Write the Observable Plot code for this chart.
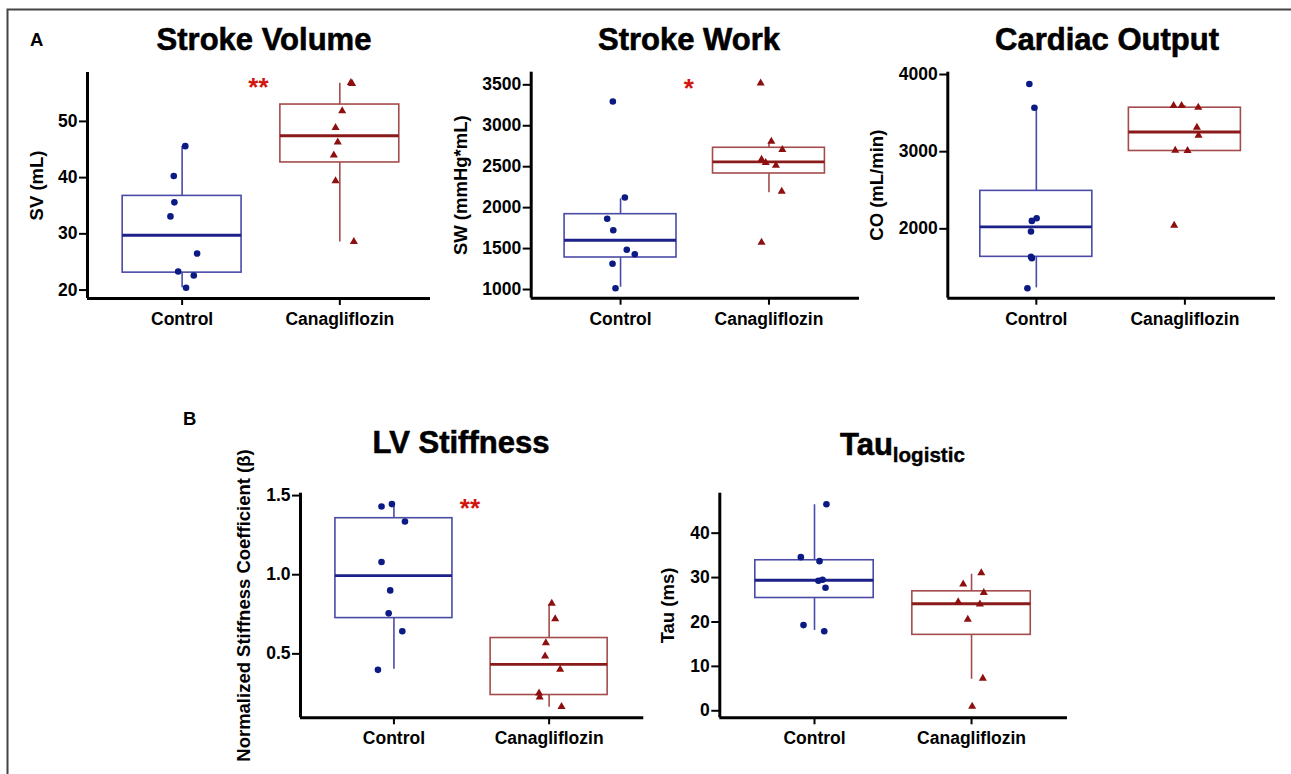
<!DOCTYPE html>
<html>
<head>
<meta charset="utf-8">
<script src="https://cdn.jsdelivr.net/npm/d3@7"></script>
<script src="https://cdn.jsdelivr.net/npm/@observablehq/plot@0.6"></script>
<style>
  html, body { margin: 0; padding: 0; background: #fff; }
  #fig { position: relative; width: 1291px; height: 774px; overflow: hidden; background: #fff;
         font-family: "Liberation Sans", Arial, Helvetica, sans-serif; }
  .panel { position: absolute; }
  #overlay { position: absolute; left: 0; top: 0; pointer-events: none; }
</style>
</head>
<body>
<div id="fig"></div>
<script>
// ---------------- data ----------------
const groups = ["Control", "Canagliflozin"];

// Stroke Volume (mL)
const svControl = [45.6, 40.3, 35.6, 33.1, 26.5, 23.3, 22.6, 20.4];
const svControlJitter = [0.02, -0.053, -0.049, -0.074, 0.095, -0.025, 0.074, 0.025];
const svCanag = [56.9, 56.7, 51.85, 48.9, 46.3, 44.0, 39.4, 28.6];
const svCanagJitter = [0.07, 0.078, 0.015, -0.027, -0.013, -0.038, -0.027, 0.089];
const svQ1 = [23.1, 42.7];
const svMedian = [29.75, 47.45];
const svQ3 = [36.75, 53.0];
const svLo = [20.4, 28.55];
const svHi = [45.6, 56.8];
const svTicks = [20, 30, 40, 50];
const svStars = [{x: 1.484, y: 57.0, label: "**"}];

// Stroke Work (mmHg*mL)
const swControl = [3297, 2124, 1864, 1724, 1485, 1431, 1314, 1016];
const swControlJitter = [-0.052, 0.029, -0.09, -0.049, 0.042, 0.096, -0.054, -0.034];
const swCanag = [3520, 2808, 2707, 2588, 2548, 2515, 2197, 1574];
const swCanagJitter = [-0.056, 0.016, 0.09, -0.05, -0.022, 0.047, 0.086, -0.05];
const swQ1 = [1391, 2417];
const swMedian = [1602, 2560];
const swQ3 = [1920, 2731];
const swLo = [1028, 2181];
const swHi = [2108, 2792];
const swTicks = [1000, 1500, 2000, 2500, 3000, 3500];
const swStars = [{x: 1.46, y: 3532, label: "*"}];

// Cardiac Output (mL/min)
const coControl = [3877, 3570, 2137, 2103, 1965, 1637, 1620, 1230];
const coControlJitter = [-0.047, -0.013, 0.002, -0.03, -0.036, -0.036, -0.03, -0.06];
const coCanag = [3596, 3596, 3574, 3315, 3211, 3017, 3013, 2043];
const coCanagJitter = [-0.076, -0.022, 0.09, 0.081, 0.092, -0.065, 0.018, -0.072];
const coQ1 = [1637, 3009];
const coMedian = [2026, 3255];
const coQ3 = [2492, 3570];
const coLo = [1235, 3009];
const coHi = [3583, 3596];
const coTicks = [2000, 3000, 4000];
const coStars = [];

// LV Stiffness (normalized beta)
const lvControl = [1.431, 1.446, 1.336, 1.08, 0.901, 0.756, 0.643, 0.399];
const lvControlJitter = [-0.08, -0.013, 0.071, -0.08, -0.024, -0.034, 0.054, -0.103];
const lvCanag = [0.819, 0.721, 0.569, 0.485, 0.401, 0.252, 0.227, 0.167];
const lvCanagJitter = [0.017, 0.039, -0.021, -0.026, 0.071, -0.065, -0.061, 0.08];
const lvQ1 = [0.726, 0.24];
const lvMedian = [0.994, 0.433];
const lvQ3 = [1.357, 0.600];
const lvLo = [0.403, 0.162];
const lvHi = [1.446, 0.814];
const lvTicks = [0.5, 1.0, 1.5];
const lvStars = [{x: 1.49, y: 1.458, label: "**"}];

// Tau logistic (ms)
const tauControl = [46.5, 34.6, 33.7, 29.3, 29.5, 27.7, 19.3, 17.9];
const tauControlJitter = [0.076, -0.087, 0.032, 0.025, 0.051, 0.07, -0.07, 0.062];
const tauCanag = [31.05, 28.5, 26.6, 24.5, 24.0, 20.6, 7.3, 0.97];
const tauCanagJitter = [0.062, -0.053, 0.078, -0.085, 0.053, -0.024, 0.072, 0.004];
const tauQ1 = [25.4, 17.1];
const tauMedian = [29.4, 24.1];
const tauQ3 = [33.9, 26.9];
const tauLo = [18.1, 7.1];
const tauHi = [46.4, 30.75];
const tauTicks = [0, 10, 20, 30, 40];
const tauStars = [];

// ---------------- styling ----------------
const FONT = '"Liberation Sans", Arial, Helvetica, sans-serif';
const COLORS = [
  {pt: "#0c1a84", box: "#4a4aa8", med: "#1b2188"},
  {pt: "#8e0f10", box: "#a44c4c", med: "#8b1a1a"}
];
const STAR = "#d3150f";
const HALF = 0.377;

function panel(cfg) {
  const pts = [
    ...cfg.ctrl.map((v, i) => ({g: 0, x: 1 + cfg.ctrlJ[i], y: v})),
    ...cfg.can.map((v, i) => ({g: 1, x: 2 + cfg.canJ[i], y: v}))
  ];
  const boxes = groups.map((name, i) => ({
    i, x: i + 1, q1: cfg.q1[i], med: cfg.med[i], q3: cfg.q3[i], lo: cfg.lo[i], hi: cfg.hi[i]
  }));
  const marks = [];
  boxes.forEach(b => {
    const c = COLORS[b.i];
    marks.push(Plot.ruleX([b], {x: "x", y1: "q3", y2: "hi", stroke: c.box, strokeWidth: 1.6}));
    marks.push(Plot.ruleX([b], {x: "x", y1: "lo", y2: "q1", stroke: c.box, strokeWidth: 1.6}));
    marks.push(Plot.rect([b], {x1: d => d.x - HALF, x2: d => d.x + HALF, y1: "q1", y2: "q3",
      fill: "none", stroke: c.box, strokeWidth: 1.6}));
    marks.push(Plot.ruleY([b], {y: "med", x1: d => d.x - HALF, x2: d => d.x + HALF,
      stroke: c.med, strokeWidth: 2.8}));
  });
  marks.push(Plot.dot(pts.filter(d => d.g === 0), {x: "x", y: "y", r: 3.3, fill: COLORS[0].pt, stroke: "none"}));
  marks.push(Plot.dot(pts.filter(d => d.g === 1), {x: "x", y: "y", r: 3.0, symbol: "triangle", fill: COLORS[1].pt, stroke: "none"}));
  marks.push(Plot.text(cfg.stars, {x: "x", y: "y", text: "label", fill: STAR, fontSize: 26, fontWeight: "bold", dy: 6}));
  // axes
  marks.push(Plot.axisY({ticks: cfg.yTicks, tickFormat: cfg.yFormat || (d => String(d)), tickSize: 8,
    tickPadding: 2, strokeWidth: 2, label: null, fontSize: 17.5, fontWeight: "bold"}));
  marks.push(Plot.axisY({ticks: [], tickSize: 0, label: cfg.label, labelAnchor: "center", labelArrow: "none",
    labelOffset: cfg.labelOffset, fontSize: 18.5, fontWeight: "bold"}));
  marks.push(Plot.axisX({ticks: [1, 2], tickFormat: d => groups[d - 1], tickSize: 7, tickPadding: 7,
    strokeWidth: 2, label: null, fontSize: 17.5, fontWeight: "bold"}));
  marks.push(Plot.ruleX([cfg.xDomain[0]], {stroke: "#000", strokeWidth: 3}));
  marks.push(Plot.ruleY([cfg.yDomain[0]], {stroke: "#000", strokeWidth: 3}));

  const g = cfg.geom;
  const svg = Plot.plot({
    width: g.w, height: g.h,
    marginLeft: g.ml, marginRight: g.mr, marginTop: g.mt, marginBottom: g.mb,
    x: {type: "linear", domain: cfg.xDomain, axis: null},
    y: {type: "linear", domain: cfg.yDomain, axis: null},
    style: {fontFamily: FONT, fontWeight: "bold", fontSize: "17.5px", color: "#000",
            background: "transparent", overflow: "visible"},
    marks
  });
  svg.classList.add("panel");
  svg.style.left = g.left + "px";
  svg.style.top = g.top + "px";
  svg.style.position = "absolute";
  return svg;
}

const fig = document.getElementById("fig");

const panels = [
  {ctrl: svControl, ctrlJ: svControlJitter, can: svCanag, canJ: svCanagJitter,
   q1: svQ1, med: svMedian, q3: svQ3, lo: svLo, hi: svHi, yTicks: svTicks, stars: svStars,
   yDomain: [18.5, 58.7], xDomain: [0.4, 2.575], label: "SV (mL)", labelOffset: 58,
   geom: {left: 0, top: 55, w: 432, h: 285, ml: 87, mr: 2, mt: 17, mb: 42}},
  {ctrl: swControl, ctrlJ: swControlJitter, can: swCanag, canJ: swCanagJitter,
   q1: swQ1, med: swMedian, q3: swQ3, lo: swLo, hi: swHi, yTicks: swTicks, stars: swStars,
   yDomain: [894, 3654], xDomain: [0.398, 2.61], label: "SW (mmHg*mL)", labelOffset: 77,
   geom: {left: 432, top: 55, w: 430, h: 285, ml: 98.7, mr: 3, mt: 16.7, mb: 42.3}},
  {ctrl: coControl, ctrlJ: coControlJitter, can: coCanag, canJ: coCanagJitter,
   q1: coQ1, med: coMedian, q3: coQ3, lo: coLo, hi: coHi, yTicks: coTicks, stars: coStars,
   yDomain: [1101, 4030], xDomain: [0.404, 2.61], label: "CO (mL/min)", labelOffset: 78,
   geom: {left: 862, top: 55, w: 429, h: 285, ml: 85.3, mr: 16, mt: 16.7, mb: 42.3}},
  {ctrl: lvControl, ctrlJ: lvControlJitter, can: lvCanag, canJ: lvCanagJitter,
   q1: lvQ1, med: lvMedian, q3: lvQ3, lo: lvLo, hi: lvHi, yTicks: lvTicks, stars: lvStars,
   yFormat: d3.format(".1f"),
   yDomain: [0.096, 1.515], xDomain: [0.398, 2.61], label: "Normalized Stiffness Coefficient (β)", labelOffset: 64,
   geom: {left: 160, top: 470, w: 485, h: 304, ml: 140, mr: 1.7, mt: 22.7, mb: 56.7}},
  {ctrl: tauControl, ctrlJ: tauControlJitter, can: tauCanag, canJ: tauCanagJitter,
   q1: tauQ1, med: tauMedian, q3: tauQ3, lo: tauLo, hi: tauHi, yTicks: tauTicks, stars: tauStars,
   yDomain: [-1.58, 49.0], xDomain: [0.397, 2.611], label: "Tau (ms)", labelOffset: 59,
   geom: {left: 645, top: 470, w: 440, h: 304, ml: 74.3, mr: 18, mt: 22.7, mb: 56.7}}
];

panels.forEach(p => fig.appendChild(panel(p)));

// overlay: border, panel letters, titles
const ov = d3.select(fig).append("svg").attr("id", "overlay")
  .attr("width", 1291).attr("height", 774)
  .style("font-family", FONT).style("font-weight", "bold");
ov.append("path").attr("d", "M7.5,774V9.5H1291").attr("fill", "none").attr("stroke", "#444").attr("stroke-width", 2);
ov.append("text").attr("x", 30).attr("y", 45.5).attr("font-size", 18.5).text("A");
ov.append("text").attr("x", 183).attr("y", 425).attr("font-size", 18.5).text("B");
const titles = [
  {t: "Stroke Volume", x: 264, y: 50},
  {t: "Stroke Work", x: 689, y: 50},
  {t: "Cardiac Output", x: 1107, y: 50},
  {t: "LV Stiffness", x: 461, y: 453}
];
titles.forEach(d => ov.append("text").attr("x", d.x).attr("y", d.y).attr("text-anchor", "middle")
  .attr("font-size", 31).attr("stroke", "#000").attr("stroke-width", 0.6).text(d.t));
const tau = ov.append("text").attr("x", 840).attr("y", 455).attr("font-size", 31)
  .attr("stroke", "#000").attr("stroke-width", 0.6).text("Tau");
tau.append("tspan").attr("font-size", 20.6).attr("dy", 7).attr("stroke-width", 0.4).text("logistic");
</script>
</body>
</html>
